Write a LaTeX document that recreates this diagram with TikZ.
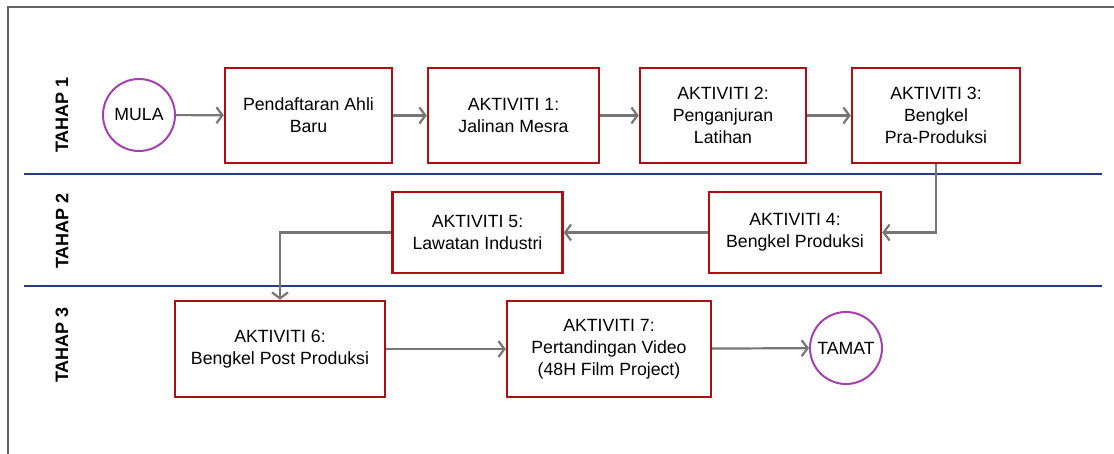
\documentclass[tikz,border=0pt]{standalone}
\usepackage{fontspec}
\setmainfont{Liberation Sans}
\usetikzlibrary{arrows.meta}
\definecolor{boxred}{RGB}{172,14,18}
\definecolor{circpurple}{RGB}{165,65,175}
\definecolor{laneblue}{RGB}{38,58,140}
\definecolor{conngray}{RGB}{118,118,118}
\definecolor{framegray}{RGB}{100,100,100}
\tikzset{
  actbox/.style={draw=boxred, line width=2.4bp, rectangle, align=center, fill=white,
    font=\fontsize{17.7bp}{22bp}\selectfont, inner sep=0pt},
  termcirc/.style={draw=circpurple, line width=2bp, circle, minimum size=72bp, inner sep=0pt,
    font=\fontsize{17.7bp}{22bp}\selectfont},
  conn/.style={draw=conngray, line width=2.2bp, -{Straight Barb[length=6bp,width=16bp,line width=2.2bp]}},
  lane/.style={draw=laneblue, line width=2.6bp},
  stagelabel/.style={rotate=90, font=\fontsize{18bp}{22bp}\selectfont\bfseries}
}
\begin{document}
\begin{tikzpicture}[x=1bp,y=-1bp]
\useasboundingbox (0,0) rectangle (1114,454);
% frame
\draw[framegray, line width=1.5bp] (8,454) -- (8,7) -- (1114,7);
% lanes
\draw[lane] (24,174) -- (1102,174);
\draw[lane] (24,286) -- (1102,286);
% stage labels
\node[stagelabel] (t1) at (62,115) {TAHAP 1};
\node[stagelabel] (t2) at (62,231) {TAHAP 2};
\node[stagelabel] (t3) at (62,345) {TAHAP 3};
% nodes
\node[termcirc] (mula) at (139,115) {MULA};
\node[actbox, minimum width=167bp, minimum height=95bp] (p) at (308.5,115.5) {Pendaftaran Ahli\\Baru};
\node[actbox, minimum width=171bp, minimum height=95bp] (a1) at (513.5,115.5) {AKTIVITI 1:\\Jalinan Mesra};
\node[actbox, minimum width=166bp, minimum height=95bp] (a2) at (723,115.5) {AKTIVITI 2:\\Penganjuran\\Latihan};
\node[actbox, minimum width=168bp, minimum height=95bp] (a3) at (936,115.5) {AKTIVITI 3:\\Bengkel\\Pra-Produksi};
\node[actbox, minimum width=172bp, minimum height=81bp] (a4) at (795,232.5) {AKTIVITI 4:\\Bengkel Produksi};
\node[actbox, minimum width=170bp, minimum height=81bp] (a5) at (477.5,232.5) {AKTIVITI 5:\\Lawatan Industri};
\node[actbox, minimum width=210bp, minimum height=96bp] (a6) at (280,349) {AKTIVITI 6:\\Bengkel Post Produksi};
\node[actbox, minimum width=204bp, minimum height=96bp] (a7) at (609,349) {AKTIVITI 7:\\Pertandingan Video\\(48H Film Project)};
\node[termcirc] (tamat) at (846,348) {TAMAT};
% connectors
\draw[conn] (mula) -- (p);
\draw[conn] (p) -- (a1);
\draw[conn] (a1) -- (a2);
\draw[conn] (a2) -- (a3);
\draw[conn] (a3.south) |- (a4.east);
\draw[conn] (a4) -- (a5);
\draw[conn] (a5.west) -| (a6.north);
\draw[conn] (a6) -- (a7);
\draw[conn] (a7) -- (tamat);
\end{tikzpicture}
\end{document}
